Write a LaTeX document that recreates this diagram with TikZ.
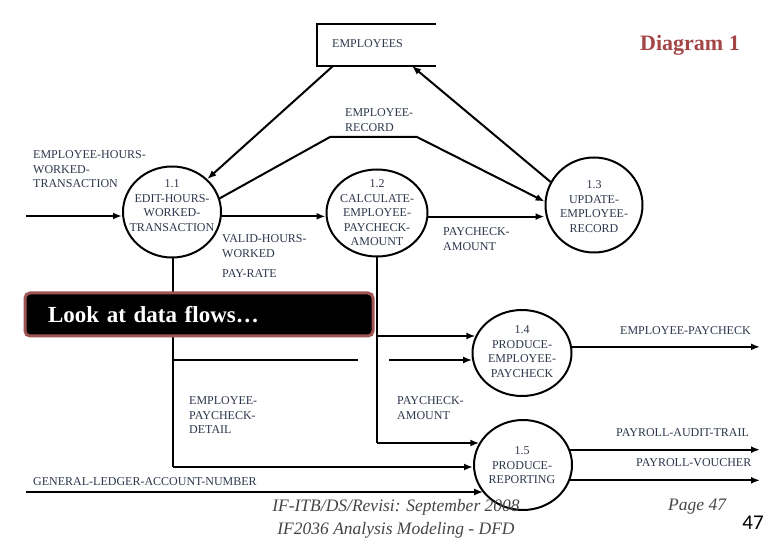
\documentclass[tikz,border=0pt]{standalone}
\usepackage{fontspec}
\setmainfont{Liberation Serif}
\newfontfamily\footfont{Liberation Serif}
\newfontfamily\numfont{Carlito}
\usetikzlibrary{shapes.geometric,arrows.meta,calc}
\definecolor{lblcol}{RGB}{45,55,75}
\definecolor{diagcol}{RGB}{165,70,70}
\definecolor{lookborder}{RGB}{160,85,85}
\definecolor{footcol}{RGB}{70,70,70}
\tikzset{
  proc/.style={ellipse, draw=black, line width=2pt, inner sep=0pt},
  ptext/.style={anchor=north, yshift=8.2pt, inner sep=0pt, align=center, text=lblcol, font=\fontsize{12}{14.5}\selectfont},
  lbl/.style={anchor=north west, yshift=8.2pt, align=left, text=lblcol, font=\fontsize{12}{14.5}\selectfont, inner sep=0pt},
  flow/.style={line width=2pt, -{Latex[length=9pt,width=7pt]}},
  plain/.style={line width=2pt},
  lookbox/.style={draw=lookborder, line width=3pt, fill=black, rounded corners=5pt, text=white,
    font=\fontsize{23}{26}\selectfont\bfseries, align=left},
  foot/.style={text=footcol, font=\footfont\itshape\fontsize{17.5}{20}\selectfont, inner sep=0pt}
}
\begin{document}
\begin{tikzpicture}[x=1pt,y=-1pt]
\useasboundingbox[fill=white] (0,0) rectangle (780,540);

% EMPLOYEES store (open on the right)
\draw[plain] (436,24) -- (317,24) -- (317,66) -- (436,66);
\node[lbl] (emp) at (332,48) {EMPLOYEES};
\coordinate (empbl) at (333,66);
\coordinate (empbr) at (412,66);

\node[anchor=base west, text=diagcol, font=\fontsize{22}{24}\selectfont\bfseries, inner sep=0pt] (diag) at (640,51) {Diagram 1};

% processes
\node[proc, minimum width=98pt, minimum height=91pt] (p11) at (172,212) {};
\node[proc, minimum width=101pt, minimum height=87pt] (p12) at (377,213) {};
\node[proc, minimum width=97pt, minimum height=95pt] (p13) at (594,205) {};
\node[proc, minimum width=99pt, minimum height=86pt] (p14) at (522,353) {};
\node[proc, minimum width=98pt, minimum height=90pt] (p15) at (523,465) {};

\node[ptext] (t11) at (172,188) {1.1\\EDIT-HOURS-\\WORKED-\\TRANSACTION};
\node[ptext] (t12) at (377,188) {1.2\\CALCULATE-\\EMPLOYEE-\\PAYCHECK-\\AMOUNT};
\node[ptext] (t13) at (594,189) {1.3\\UPDATE-\\EMPLOYEE-\\RECORD};
\node[ptext] (t14) at (522,334) {1.4\\PRODUCE-\\EMPLOYEE-\\PAYCHECK};
\node[ptext] (t15) at (522,455) {1.5\\PRODUCE-\\REPORTING};

% free ends and bends
\coordinate (in1) at (26,216);
\coordinate (gl) at (26,492);
\coordinate (rA) at (330,137);
\coordinate (rB) at (417,137);
\coordinate (j1) at (377,336);
\coordinate (j2) at (377,443);
\coordinate (k1) at (173,360);
\coordinate (k2) at (173,467);
\coordinate (gapL) at (358,360);
\coordinate (gapR) at (389,360);
\coordinate (o1) at (760,347);
\coordinate (o2) at (760,450);
\coordinate (o3) at (760,480);

% flows
\draw[flow] (in1) -- (in1 -| p11.west);
\draw[flow] (empbl) -- (p11.43);
\draw[flow] (p13.152) -- (empbr);
\draw[flow] (p11.16) -- (rA) -- (rB) -- (p13.176);
\draw[flow] (p11.-5) -- (p11.-5 -| p12.west);
\draw[flow] (p12.-4) -- (p12.-4 -| p13.west);

\draw[plain] (p12.south) -- (j2);
\draw[flow] (j1) -- (j1 -| p14.160);
\draw[flow] (j2) -- (j2 -| p15.153);

\draw[plain] (p11.south -| k1) -- (k2);
\draw[flow] (k2) -- (k2 -| p15.west);
\draw[plain] (k1) -- (gapL);
\draw[flow] (gapR) -- (gapR -| p14.188);

\draw[flow] (gl) -- (gl -| p15.215);

\draw[flow] (p14.7) -- (p14.7 -| o1);
\draw[flow] (p15.18) -- (p15.18 -| o2);
\draw[flow] (p15.-18) -- (p15.-18 -| o3);

% flow labels
\node[lbl] (l1) at (33,159) {EMPLOYEE-HOURS-\\WORKED-\\TRANSACTION};
\node[lbl] (l2) at (345,117) {EMPLOYEE-\\RECORD};
\node[lbl] (l3) at (222,243) {VALID-HOURS-\\WORKED};
\node[lbl] (l4) at (222,278) {PAY-RATE};
\node[lbl] (l5) at (443,236) {PAYCHECK-\\AMOUNT};
\node[lbl] (l6) at (620,335) {EMPLOYEE-PAYCHECK};
\node[lbl] (l7) at (189,405) {EMPLOYEE-\\PAYCHECK-\\DETAIL};
\node[lbl] (l8) at (397,405) {PAYCHECK-\\AMOUNT};
\node[lbl] (l9) at (616,437) {PAYROLL-AUDIT-TRAIL};
\node[lbl] (l10) at (636,467) {PAYROLL-VOUCHER};
\node[lbl] (l11) at (33,486) {GENERAL-LEDGER-ACCOUNT-NUMBER};

% overlay box
\node[lookbox, minimum height=43pt, text width=302pt, inner xsep=23pt, inner ysep=0pt] (look) at (199,314.5) {Look at data flows\ldots};

% footer
\node[foot] (f1) at (396,507) {IF-ITB/DS/Revisi: September 2008};
\node[foot] (f2) at (396,530) {IF2036 Analysis Modeling - DFD};
\node[foot, anchor=west] (f3) at (668,507) {Page 47};
\node[font=\numfont\fontsize{21}{24}\selectfont, inner sep=0pt] (pg) at (753,523) {47};
\end{tikzpicture}
\end{document}
